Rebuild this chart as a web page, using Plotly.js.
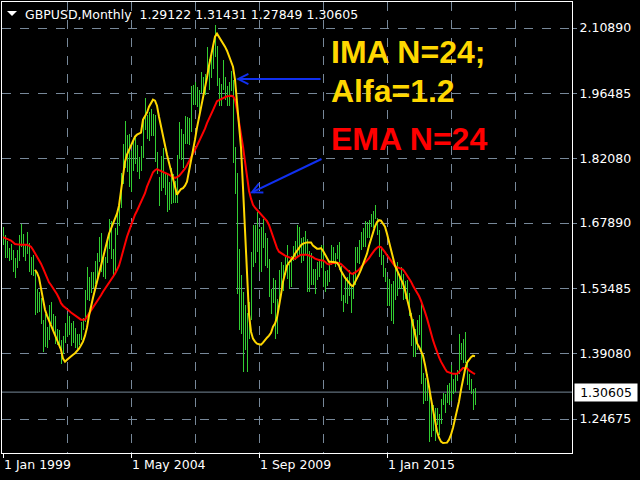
<!DOCTYPE html>
<html><head><meta charset="utf-8">
<script src="https://cdn.plot.ly/plotly-3.0.1.min.js"></script>
<style>html,body{margin:0;padding:0;background:#000;}#chart{width:640px;height:480px;}</style>
</head><body><div id="chart"></div>
<script>
// GBPUSD monthly, Jan 1999 .. Sep 2018 (one entry per month)
const highs = [
1.6700,1.6530,1.6400,1.6240,1.6320,1.6200,1.6010,1.6200,1.6530,1.6760,1.6550,1.6330,
1.6590,1.6350,1.6050,1.6090,1.5750,1.5340,1.5270,1.5130,1.4650,1.4780,1.4490,1.4980,
1.5050,1.4780,1.4750,1.4450,1.4420,1.4220,1.4300,1.4580,1.4780,1.4750,1.4590,1.4620,
1.4480,1.4340,1.4350,1.4600,1.4700,1.5320,1.5810,1.5600,1.5700,1.5720,1.5960,1.6120,
1.6480,1.6580,1.6050,1.6040,1.6490,1.6880,1.6830,1.6210,1.6690,1.7060,1.7300,1.7890,
1.8530,1.9050,1.8720,1.8750,1.8380,1.8600,1.8740,1.8520,1.8240,1.8480,1.9120,1.9550,
1.9180,1.9230,1.9310,1.9190,1.9170,1.8350,1.7810,1.8260,1.8440,1.7900,1.7880,1.7700,
1.8000,1.7870,1.7720,1.8300,1.9020,1.8870,1.8760,1.9150,1.9120,1.9100,1.9800,1.9840,
1.9900,1.9780,1.9730,2.0130,2.0000,2.0080,2.0660,2.0400,2.0460,2.0690,2.1160,2.0690,
1.9980,1.9850,2.0390,2.0000,1.9820,1.9900,2.0150,1.9950,1.8460,1.7900,1.6220,1.5640,
1.5270,1.4980,1.4810,1.5050,1.6160,1.6740,1.6740,1.7040,1.6650,1.6710,1.6880,1.6570,
1.6450,1.5990,1.5330,1.5580,1.5530,1.5110,1.5760,1.5940,1.5860,1.6050,1.6300,1.5890,
1.6060,1.6280,1.6400,1.6750,1.6700,1.6460,1.6480,1.6620,1.6440,1.6170,1.6130,1.5780,
1.5780,1.5930,1.6000,1.6300,1.6300,1.5730,1.5750,1.5920,1.6310,1.6250,1.6130,1.6310,
1.6380,1.5850,1.5210,1.5550,1.5600,1.5750,1.5430,1.5720,1.6260,1.6260,1.6410,1.6600,
1.6670,1.6830,1.6820,1.6850,1.6990,1.7060,1.7190,1.6900,1.6640,1.6250,1.6090,1.5790,
1.5590,1.5550,1.5450,1.5500,1.5820,1.5930,1.5670,1.5820,1.5660,1.5510,1.5530,1.5240,
1.4810,1.4670,1.4460,1.4650,1.4770,1.5020,1.3480,1.3370,1.3450,1.3060,1.2770,1.2780,
1.2710,1.2700,1.2570,1.2910,1.3050,1.3030,1.3210,1.3270,1.3660,1.3340,1.3480,1.3550,
1.4350,1.4150,1.4240,1.4380,1.3770,1.3470,1.3360,1.3140,1.31431
];
const lows = [
1.6300,1.6020,1.6010,1.5950,1.5970,1.5700,1.5580,1.5800,1.5950,1.6250,1.6030,1.5950,
1.6100,1.5720,1.5650,1.5630,1.4770,1.4800,1.4820,1.4560,1.3955,1.4050,1.4030,1.4210,
1.4570,1.4370,1.4120,1.4110,1.4040,1.3686,1.3900,1.4140,1.4280,1.4330,1.4070,1.4140,
1.4030,1.4020,1.4110,1.4220,1.4430,1.4600,1.5100,1.5080,1.5250,1.5360,1.5440,1.5500,
1.5930,1.5720,1.5600,1.5550,1.5900,1.6220,1.5990,1.5620,1.5730,1.6530,1.6720,1.7130,
1.7660,1.8010,1.7920,1.7580,1.7480,1.7930,1.8080,1.7920,1.7770,1.7940,1.8230,1.8850,
1.8640,1.8600,1.8700,1.8710,1.8140,1.7870,1.7160,1.7490,1.7560,1.7410,1.7040,1.7080,
1.7210,1.7230,1.7220,1.7240,1.8210,1.8180,1.8000,1.8530,1.8540,1.8510,1.8790,1.9400,
1.9400,1.9340,1.9160,1.9650,1.9610,1.9610,2.0020,1.9730,1.9980,2.0190,2.0450,1.9820,
1.9380,1.9370,1.9720,1.9500,1.9360,1.9360,1.9700,1.8120,1.7440,1.5230,1.4420,1.4350,
1.3500,1.3990,1.3500,1.4240,1.4650,1.5810,1.5900,1.6150,1.5710,1.5700,1.6240,1.5840,
1.5800,1.5150,1.4780,1.5030,1.4230,1.4350,1.5020,1.5380,1.5300,1.5650,1.5550,1.5340,
1.5370,1.5960,1.5980,1.6030,1.6080,1.5910,1.5950,1.6100,1.5270,1.5270,1.5420,1.5420,
1.5230,1.5530,1.5600,1.5800,1.5380,1.5270,1.5390,1.5480,1.5860,1.5910,1.5830,1.5990,
1.5750,1.5080,1.4830,1.5020,1.5000,1.5180,1.4810,1.5110,1.5420,1.5900,1.5890,1.6200,
1.6250,1.6250,1.6470,1.6460,1.6700,1.6690,1.6870,1.6530,1.6050,1.5870,1.5590,1.5490,
1.4950,1.4950,1.4630,1.4560,1.5090,1.5170,1.5330,1.5330,1.5100,1.5110,1.5030,1.4740,
1.4080,1.3840,1.3830,1.4000,1.4330,1.3230,1.2800,1.2860,1.2870,1.1960,1.2080,1.2200,
1.1990,1.2340,1.2110,1.2360,1.2770,1.2590,1.2810,1.2770,1.2860,1.3030,1.3060,1.3300,
1.3450,1.3760,1.3710,1.3710,1.3210,1.3100,1.3010,1.2660,1.27849
];
// EMA N=24 (red)
const ema24 = [
1.6477,1.6459,1.6444,1.6428,1.6404,1.6367,1.6327,1.6320,1.6311,1.6311,1.6311,1.6311,
1.6311,1.6289,1.6267,1.6201,1.6128,1.6058,1.5981,1.5892,1.5793,1.5687,1.5573,1.5482,
1.5423,1.5363,1.5297,1.5220,1.5132,1.5022,1.4966,1.4922,1.4889,1.4856,1.4816,1.4786,
1.4757,1.4724,1.4680,1.4658,1.4658,1.4658,1.4724,1.4790,1.4845,1.4907,1.4977,1.5055,
1.5125,1.5198,1.5275,1.5337,1.5403,1.5480,1.5551,1.5606,1.5672,1.5760,1.5848,1.6003,
1.6168,1.6349,1.6488,1.6609,1.6730,1.6885,1.6973,1.7061,1.7149,1.7238,1.7326,1.7447,
1.7590,1.7712,1.7811,1.7910,1.7954,1.7978,1.7954,1.7934,1.7921,1.7903,1.7888,1.7855,
1.7828,1.7802,1.7782,1.7802,1.7828,1.7877,1.7921,1.7987,1.8064,1.8142,1.8230,1.8318,
1.8406,1.8494,1.8583,1.8671,1.8759,1.8869,1.8991,1.9101,1.9189,1.9277,1.9376,1.9476,
1.9500,1.9524,1.9544,1.9564,1.9584,1.9590,1.9597,1.9586,1.9509,1.9288,1.9046,1.8781,
1.8472,1.8142,1.7789,1.7502,1.7326,1.7193,1.7127,1.7077,1.7028,1.6984,1.6942,1.6896,
1.6830,1.6746,1.6620,1.6477,1.6349,1.6234,1.6157,1.6124,1.6091,1.6069,1.6051,1.6029,
1.6016,1.6009,1.6003,1.6036,1.6069,1.6091,1.6091,1.6091,1.6091,1.6073,1.6058,1.6036,
1.6003,1.5981,1.5974,1.5970,1.5965,1.5937,1.5892,1.5875,1.5892,1.5906,1.5908,1.5908,
1.5908,1.5886,1.5842,1.5798,1.5754,1.5710,1.5679,1.5668,1.5694,1.5725,1.5760,1.5815,
1.5866,1.5908,1.5952,1.6014,1.6080,1.6153,1.6201,1.6245,1.6270,1.6256,1.6208,1.6146,
1.6080,1.6014,1.5948,1.5881,1.5837,1.5815,1.5804,1.5787,1.5765,1.5705,1.5639,1.5573,
1.5496,1.5407,1.5341,1.5271,1.5180,1.5077,1.4966,1.4823,1.4686,1.4514,1.4349,1.4206,
1.4073,1.3941,1.3831,1.3732,1.3643,1.3577,1.3511,1.3489,1.3476,1.3463,1.3463,1.3467,
1.3502,1.3549,1.3593,1.3593,1.3588,1.3540,1.3504,1.3482,1.3456
];
// IMA N=24; Alfa=1.2 (yellow), first 16 months not drawn
const ima24 = [
null,null,null,null,null,null,null,null,null,null,null,null,
null,null,null,null,1.5760,1.5694,1.5584,1.5319,1.5099,1.4878,1.4746,1.4636,
1.4537,1.4437,1.4327,1.4228,1.4129,1.3996,1.3798,1.3732,1.3776,1.3820,1.3853,1.3886,
1.3919,1.3963,1.4019,1.4096,1.4173,1.4305,1.4482,1.4746,1.4967,1.5143,1.5319,1.5496,
1.5716,1.5915,1.6069,1.6201,1.6378,1.6554,1.6687,1.6775,1.6885,1.6995,1.7172,1.7524,
1.7811,1.8142,1.8296,1.8406,1.8495,1.8605,1.8693,1.8737,1.8759,1.8781,1.9068,1.9156,
1.9222,1.9355,1.9443,1.9509,1.9487,1.9377,1.9134,1.8914,1.8737,1.8517,1.8296,1.8120,
1.7943,1.7767,1.7591,1.7414,1.7480,1.7536,1.7558,1.7613,1.7701,1.7921,1.8120,1.8384,
1.8627,1.8892,1.9112,1.9288,1.9487,1.9729,1.9994,2.0259,2.0501,2.0722,2.0898,2.0964,
2.0898,2.0832,2.0766,2.0678,2.0589,2.0457,2.0347,2.0237,1.9950,1.9443,1.9046,1.8451,
1.7569,1.6665,1.5562,1.4768,1.4393,1.4239,1.4173,1.4129,1.4118,1.4107,1.4151,1.4217,
1.4261,1.4305,1.4371,1.4504,1.4570,1.4702,1.4923,1.5209,1.5496,1.5672,1.5849,1.5915,
1.5959,1.6025,1.6113,1.6179,1.6246,1.6301,1.6334,1.6356,1.6362,1.6362,1.6362,1.6290,
1.6246,1.6224,1.6224,1.6235,1.6179,1.6091,1.6003,1.5937,1.5937,1.5937,1.5926,1.5915,
1.5849,1.5738,1.5650,1.5584,1.5529,1.5474,1.5419,1.5397,1.5474,1.5562,1.5661,1.5760,
1.5871,1.5992,1.6113,1.6290,1.6444,1.6598,1.6715,1.6808,1.6852,1.6841,1.6786,1.6709,
1.6554,1.6378,1.6157,1.5970,1.5849,1.5749,1.5650,1.5562,1.5452,1.5308,1.5143,1.4945,
1.4746,1.4548,1.4327,1.4140,1.4063,1.3974,1.3864,1.3666,1.3445,1.3181,1.2916,1.2651,
1.2387,1.2199,1.2056,1.1968,1.1939,1.1939,1.1946,1.2012,1.2122,1.2277,1.2453,1.2629,
1.2850,1.3114,1.3379,1.3555,1.3710,1.3776,1.3831,1.3864,1.3853
];
// last (current) bar: open, high, low, close
const lastOHLC = [1.29122, 1.31431, 1.27849, 1.30605];
const priceTicks = [2.10890, 1.96485, 1.82080, 1.67890, 1.53485, 1.39080, 1.24675];
const dateTickIdx = [0, 64, 128, 192];
const dateTickText = ['1 Jan 1999', '1 May 2004', '1 Sep 2009', '1 Jan 2015'];

const idx = highs.map((_, i) => i);
const ranges = highs.map((h, i) => h - lows[i]);
const tickFont = {family: 'DejaVu Sans', size: 12.5, color: '#ffffff'};
const grid = '#778899';

const traces = [
  {type: 'bar', x: idx, y: ranges, base: lows, width: 0.5,
   marker: {color: '#32CD32', line: {width: 0}}, hoverinfo: 'skip'},
  {type: 'scatter', mode: 'lines', x: idx, y: ema24,
   line: {color: '#FF0000', width: 2}, hoverinfo: 'skip'},
  {type: 'scatter', mode: 'lines', x: idx, y: ima24,
   line: {color: '#FFD700', width: 2}, hoverinfo: 'skip'}
];

const bigFont = (c) => ({family: 'Liberation Sans', size: 32, color: c, weight: 'bold'});

const layout = {
  width: 640, height: 480,
  paper_bgcolor: '#000000', plot_bgcolor: '#000000',
  margin: {l: 2, r: 68, t: 2, b: 27, pad: 0},
  showlegend: false,
  bargap: 0,
  xaxis: {
    range: [-0.5, 284.5], tickmode: 'array', tickvals: dateTickIdx, ticktext: dateTickText,
    ticks: 'outside', ticklen: 4, tickcolor: '#ffffff', tickwidth: 1,
    ticklabelposition: 'outside right',
    showgrid: true, gridcolor: grid, griddash: 'dash', gridwidth: 1,
    minor: {dtick: 32, tick0: 0, showgrid: true, gridcolor: grid, griddash: 'dash', gridwidth: 1, ticks: ''},
    showline: true, linecolor: '#ffffff', linewidth: 1, mirror: true, zeroline: false,
    tickfont: tickFont, fixedrange: true
  },
  yaxis: {
    side: 'right', range: [1.1718, 2.1663], tickmode: 'array', tickvals: priceTicks,
    tickformat: '.5f', ticks: 'outside', ticklen: 4, tickcolor: grid, tickwidth: 1,
    showgrid: true, gridcolor: grid, griddash: 'dash', gridwidth: 1,
    showline: true, linecolor: '#ffffff', linewidth: 1, mirror: true, zeroline: false,
    tickfont: tickFont, fixedrange: true
  },
  shapes: [
    {type: 'line', xref: 'paper', x0: 0, x1: 1, yref: 'y', y0: lastOHLC[3], y1: lastOHLC[3],
     line: {color: grid, width: 1}, layer: 'below'},
    {type: 'path', xref: 'paper', yref: 'paper',
     path: 'M0.00877,0.98004 L0.02632,0.98004 L0.01754,0.96896 Z',
     fillcolor: '#ffffff', line: {width: 0}}
  ],
  annotations: [
    {xref: 'paper', yref: 'paper', x: 0.0368, y: 0.9723, xanchor: 'left', yanchor: 'middle',
     showarrow: false, font: tickFont,
     text: 'GBPUSD,Monthly\u00a0\u00a0' + lastOHLC.map(v => v.toFixed(5)).join(' ')},
    {xref: 'paper', yref: 'y', x: 1, xshift: 2, y: lastOHLC[3], xanchor: 'left', yanchor: 'middle',
     showarrow: false, text: lastOHLC[3].toFixed(5), bgcolor: '#ffffff', borderpad: 1,
     width: 60, align: 'center', font: {family: 'DejaVu Sans', size: 12.5, color: '#000000'}},
    {xref: 'paper', yref: 'paper', x: 0.5737, y: 0.8887, xanchor: 'left', yanchor: 'middle',
     showarrow: false, text: 'IMA N=24;', font: bigFont('#FFD700')},
    {xref: 'paper', yref: 'paper', x: 0.5737, y: 0.8035, xanchor: 'left', yanchor: 'middle',
     showarrow: false, text: 'Alfa=1.2', font: bigFont('#FFD700')},
    {xref: 'paper', yref: 'paper', x: 0.5737, y: 0.6965, xanchor: 'left', yanchor: 'middle',
     showarrow: false, text: 'EMA N=24', font: bigFont('#FF0000')},
    {xref: 'paper', yref: 'paper', x: 0.41053, y: 0.82927, text: '', showarrow: true,
     ax: 86, ay: 0, arrowcolor: '#1030f0', arrowwidth: 2, arrowhead: 5, arrowsize: 1, standoff: 0},
    {xref: 'paper', yref: 'paper', x: 0.43509, y: 0.57583, text: '', showarrow: true,
     ax: 73, ay: -35, arrowcolor: '#1030f0', arrowwidth: 2, arrowhead: 5, arrowsize: 1, standoff: 0}
  ]
};

Plotly.newPlot('chart', traces, layout, {displayModeBar: false, staticPlot: true});
</script>
</body></html>
